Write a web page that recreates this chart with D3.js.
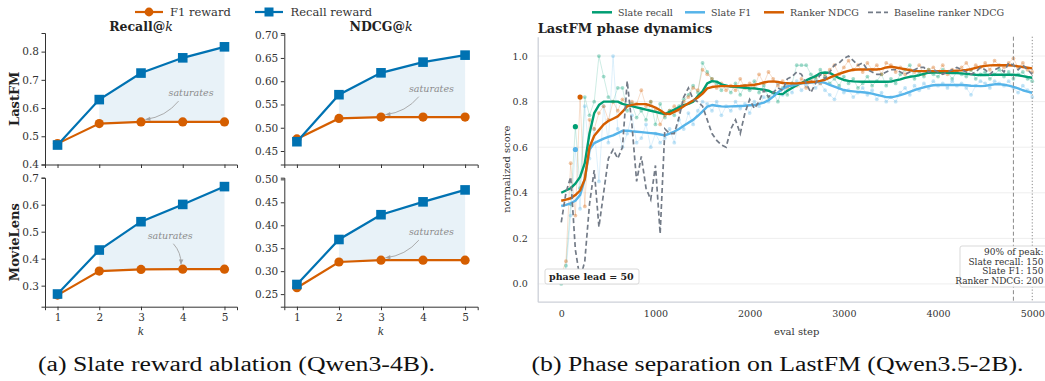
<!DOCTYPE html>
<html>
<head>
<meta charset="utf-8">
<script src="https://cdn.jsdelivr.net/npm/d3@7"></script>
<style>
  body { margin: 0; background: #fff; }
  svg { display: block; font-family: 'DejaVu Serif', serif; }
</style>
</head>
<body>
<svg id="chart" width="1045" height="381"></svg>
<script>
// ---- (a) slate reward ablation ----
const kValues = [1, 2, 3, 4, 5];
const lastfmRecallF1 = [0.474, 0.545, 0.551, 0.551, 0.551];
const lastfmRecallRecall = [0.469, 0.630, 0.724, 0.778, 0.817];
const lastfmNdcgF1 = [0.476, 0.520, 0.523, 0.523, 0.523];
const lastfmNdcgRecall = [0.470, 0.571, 0.618, 0.641, 0.656];
const movielensRecallF1 = [0.265, 0.354, 0.360, 0.361, 0.361];
const movielensRecallRecall = [0.269, 0.432, 0.537, 0.601, 0.667];
const movielensNdcgF1 = [0.264, 0.320, 0.324, 0.324, 0.324];
const movielensNdcgRecall = [0.271, 0.369, 0.423, 0.451, 0.477];

const lastfmRecallTicks = [0.4, 0.5, 0.6, 0.7, 0.8];
const lastfmNdcgTicks = [0.45, 0.50, 0.55, 0.60, 0.65, 0.70];
const movielensRecallTicks = [0.3, 0.4, 0.5, 0.6, 0.7];
const movielensNdcgTicks = [0.25, 0.30, 0.35, 0.40, 0.45, 0.50];

// ---- (b) phase dynamics, eval every 50 steps ----
const evalSteps = d3.range(0, 5001, 50);
const slateRecallRaw = [
  0.00, 0.08, 0.35, 0.69, 0.42, 0.82, 0.74, 0.80, 1.00, 0.91,
  0.82, 0.80, 0.86, 0.86, 0.76, 0.79, 0.73, 0.76, 0.72, 0.80,
  0.70, 0.79, 0.73, 0.76, 0.74, 0.78, 0.81, 0.83, 0.87, 0.84,
  0.97, 0.93, 0.90, 0.88, 0.85, 0.87, 0.84, 0.88, 0.83, 0.87,
  0.85, 0.89, 0.84, 0.87, 0.82, 0.84, 0.80, 0.86, 0.83, 0.88,
  0.96, 0.96, 0.96, 0.92, 0.90, 0.94, 0.91, 0.88, 0.90, 0.87,
  0.91, 0.88, 0.90, 0.86, 0.88, 0.91, 0.87, 0.89, 0.92, 0.87,
  0.90, 0.88, 0.92, 0.94, 0.96, 0.90, 0.93, 0.91, 0.94, 0.92,
  0.91, 0.94, 0.93, 0.90, 0.93, 0.92, 0.91, 0.94, 0.90, 0.92,
  0.93, 0.90, 0.92, 0.94, 0.91, 0.93, 0.90, 0.92, 0.93, 0.90,
  0.89];
const slateF1Raw = [
  0.02, 0.05, 0.30, 0.59, 0.33, 0.78, 0.55, 0.68, 0.45, 0.78,
  0.62, 1.00, 0.68, 0.60, 0.66, 0.74, 0.62, 0.64, 0.70, 0.60,
  0.66, 0.62, 0.64, 0.68, 0.62, 0.72, 0.68, 0.75, 0.70, 0.76,
  0.80, 0.79, 0.76, 0.80, 0.74, 0.78, 0.76, 0.80, 0.77, 0.79,
  0.75, 0.80, 0.78, 0.82, 0.80, 0.84, 0.88, 0.83, 0.87, 0.84,
  0.89, 0.85, 0.87, 0.89, 0.86, 0.88, 0.85, 0.83, 0.81, 0.86,
  0.84, 0.85, 0.82, 0.84, 0.86, 0.83, 0.85, 0.81, 0.84, 0.80,
  0.82, 0.80, 0.84, 0.86, 0.83, 0.87, 0.85, 0.88, 0.86, 0.89,
  0.87, 0.88, 0.86, 0.89, 0.87, 0.88, 0.86, 0.83, 0.87, 0.89,
  0.88, 0.86, 0.89, 0.88, 0.87, 0.89, 0.86, 0.84, 0.87, 0.85,
  0.82];
const rankerNdcgRaw = [
  0.04, 0.10, 0.53, 0.30, 0.82, 0.34, 0.72, 0.68, 0.75, 0.78,
  0.72, 0.80, 0.76, 0.81, 0.78, 0.80, 0.79, 0.85, 0.78, 0.80,
  0.76, 0.70, 0.74, 0.76, 0.78, 0.76, 0.80, 0.82, 0.86, 0.85,
  0.94, 0.92, 0.90, 0.86, 0.88, 0.85, 0.87, 0.85, 0.90, 0.86,
  0.88, 0.86, 0.92, 0.88, 0.93, 0.90, 0.87, 0.89, 0.86, 0.88,
  0.87, 0.90, 0.86, 0.89, 0.91, 0.88, 0.92, 0.94, 0.96, 0.92,
  0.95, 0.98, 0.94, 0.96, 0.93, 0.97, 0.94, 0.96, 0.92, 0.97,
  0.96, 0.93, 0.95, 0.92, 0.94, 0.93, 0.96, 0.92, 0.94, 0.95,
  0.93, 0.96, 0.92, 0.94, 0.93, 0.95, 0.97, 0.94, 0.96, 0.95,
  0.97, 0.94, 0.98, 0.96, 0.95, 0.97, 0.99, 0.95, 0.97, 0.94,
  0.93];
const baselineNdcg = [
  0.27, 0.40, 0.47, 0.15, 0.02, 0.10, 0.35, 0.50, 0.25, 0.40,
  0.55, 0.59, 0.55, 0.60, 0.89, 0.70, 0.45, 0.56, 0.42, 0.37,
  0.52, 0.22, 0.68, 0.66, 0.66, 0.73, 0.82, 0.86, 0.81, 0.80,
  0.78, 0.72, 0.66, 0.63, 0.61, 0.60, 0.68, 0.72, 0.66, 0.75,
  0.81, 0.77, 0.80, 0.85, 0.82, 0.84, 0.86, 0.85, 0.90, 0.91,
  0.93, 0.92, 0.88, 0.84, 0.88, 0.92, 0.90, 0.93, 0.96, 0.97,
  0.99, 1.00, 0.98, 0.96, 0.97, 0.94, 0.93, 0.92, 0.92, 0.93,
  0.94, 0.94, 0.93, 0.92, 0.93, 0.94, 0.95, 0.95, 0.93, 0.94,
  0.93, 0.92, 0.93, 0.94, 0.95, 0.94, 0.93, 0.92, 0.93, 0.95,
  0.94, 0.92, 0.94, 0.95, 0.93, 0.97, 0.96, 0.94, 0.96, 0.94,
  0.92];
const slateRecallSmooth = [
  0.400, 0.410, 0.420, 0.440, 0.470, 0.530, 0.660, 0.750, 0.785, 0.800,
  0.800, 0.800, 0.800, 0.790, 0.785, 0.780, 0.775, 0.770, 0.765, 0.760,
  0.755, 0.750, 0.745, 0.755, 0.765, 0.775, 0.785, 0.790, 0.800, 0.825,
  0.845, 0.880, 0.890, 0.888, 0.876, 0.870, 0.866, 0.865, 0.863, 0.861,
  0.859, 0.858, 0.855, 0.852, 0.848, 0.838, 0.834, 0.833, 0.848, 0.860,
  0.872, 0.882, 0.893, 0.903, 0.912, 0.925, 0.928, 0.926, 0.915, 0.903,
  0.895, 0.891, 0.889, 0.888, 0.887, 0.887, 0.887, 0.887, 0.887, 0.887,
  0.888, 0.893, 0.898, 0.904, 0.909, 0.912, 0.916, 0.922, 0.927, 0.928,
  0.928, 0.927, 0.927, 0.926, 0.925, 0.924, 0.922, 0.920, 0.918, 0.917,
  0.917, 0.918, 0.918, 0.918, 0.918, 0.918, 0.918, 0.916, 0.912, 0.908,
  0.905];
const slateF1Smooth = [
  0.342, 0.347, 0.354, 0.365, 0.390, 0.460, 0.590, 0.618, 0.628, 0.638,
  0.645, 0.652, 0.662, 0.672, 0.673, 0.670, 0.668, 0.666, 0.664, 0.662,
  0.660, 0.656, 0.652, 0.660, 0.669, 0.680, 0.694, 0.707, 0.720, 0.738,
  0.757, 0.778, 0.785, 0.782, 0.779, 0.778, 0.779, 0.780, 0.781, 0.782,
  0.784, 0.785, 0.790, 0.796, 0.806, 0.822, 0.840, 0.856, 0.867, 0.871,
  0.876, 0.880, 0.882, 0.884, 0.886, 0.887, 0.882, 0.874, 0.866, 0.858,
  0.851, 0.847, 0.845, 0.843, 0.841, 0.839, 0.835, 0.830, 0.825, 0.820,
  0.819, 0.823, 0.829, 0.835, 0.843, 0.851, 0.857, 0.863, 0.868, 0.872,
  0.873, 0.873, 0.873, 0.873, 0.873, 0.873, 0.872, 0.870, 0.869, 0.868,
  0.869, 0.873, 0.876, 0.877, 0.874, 0.870, 0.865, 0.858, 0.850, 0.844,
  0.839];
const rankerNdcgSmooth = [
  0.365, 0.370, 0.376, 0.390, 0.410, 0.460, 0.600, 0.650, 0.675, 0.700,
  0.715, 0.725, 0.735, 0.756, 0.780, 0.786, 0.789, 0.789, 0.789, 0.782,
  0.774, 0.762, 0.748, 0.745, 0.755, 0.766, 0.780, 0.793, 0.805, 0.818,
  0.835, 0.858, 0.864, 0.867, 0.868, 0.868, 0.868, 0.868, 0.869, 0.871,
  0.872, 0.874, 0.878, 0.884, 0.888, 0.889, 0.886, 0.882, 0.881, 0.880,
  0.880, 0.882, 0.884, 0.886, 0.887, 0.891, 0.896, 0.905, 0.914, 0.922,
  0.929, 0.935, 0.940, 0.941, 0.941, 0.941, 0.941, 0.941, 0.944, 0.950,
  0.953, 0.950, 0.946, 0.942, 0.938, 0.935, 0.934, 0.934, 0.934, 0.934,
  0.934, 0.934, 0.934, 0.935, 0.936, 0.937, 0.939, 0.943, 0.948, 0.953,
  0.957, 0.959, 0.960, 0.960, 0.960, 0.960, 0.958, 0.955, 0.952, 0.949,
  0.946];

const peakSteps = {recall: 150, f1: 150, ndcg: 200};   // 90% of peak
const markerSteps = [4800, 5000];
const phaseXTicks = [0, 1000, 2000, 3000, 4000, 5000];
const phaseYTicks = [0.0, 0.2, 0.4, 0.6, 0.8, 1.0];

const C = {blue: '#0072B2', orange: '#D55E00', green: '#009E73', sky: '#56B4E9', grey: '#737b87'};
const svg = d3.select('#chart');

// ================= (a) small multiples =================
function drawSmall(box, yDomain, yTicks, yFmt, recallVals, f1Vals, note, showX) {
  const x = d3.scaleLinear().domain([0.7, 5.3]).range([box.x0, box.x1]);
  const y = d3.scaleLinear().domain(yDomain).range([box.y1, box.y0]);
  const g = svg.append('g');
  const rows = kValues.map((k, i) => ({k: k, f1: f1Vals[i], rec: recallVals[i]}));

  g.append('path').datum(rows.slice(1))
    .attr('d', d3.area().x(d => x(d.k)).y0(d => y(d.f1)).y1(d => y(d.rec)))
    .attr('fill', C.blue).attr('fill-opacity', 0.09);

  const yAxis = g.append('g').attr('transform', 'translate(' + box.x0 + ',0)')
    .call(d3.axisLeft(y).tickValues(yTicks).tickFormat(d3.format(yFmt))
      .tickSizeOuter(0).tickSize(3.5).tickPadding(2.5));
  const xAxis = g.append('g').attr('transform', 'translate(0,' + box.y1 + ')')
    .call(d3.axisBottom(x).tickValues(kValues).tickFormat(showX ? d3.format('d') : '')
      .tickSizeOuter(0).tickSize(3.5).tickPadding(3));
  [yAxis, xAxis].forEach(a => {
    a.select('.domain').attr('stroke', '#333').attr('stroke-width', 1);
    a.selectAll('.tick line').attr('stroke', '#333');
    a.selectAll('.tick text').attr('fill', '#333').style('font-size', '10.5px')
      .style('font-family', 'DejaVu Serif');
  });

  const line = d3.line().x(d => x(d.k));
  g.append('path').datum(rows).attr('d', line.y(d => y(d.f1)))
    .attr('fill', 'none').attr('stroke', C.orange).attr('stroke-width', 2.2);
  g.selectAll('.f1pt').data(rows).enter().append('circle')
    .attr('cx', d => x(d.k)).attr('cy', d => y(d.f1)).attr('r', 4.6).attr('fill', C.orange);
  g.append('path').datum(rows).attr('d', line.y(d => y(d.rec)))
    .attr('fill', 'none').attr('stroke', C.blue).attr('stroke-width', 2.2);
  g.selectAll('.recpt').data(rows).enter().append('rect')
    .attr('x', d => x(d.k) - 4.8).attr('y', d => y(d.rec) - 4.8)
    .attr('width', 9.6).attr('height', 9.6).attr('fill', C.blue);

  // "saturates" note with curved arrow to an F1 point
  const tx = x(note.k), ty = y(note.v);
  g.append('text').attr('x', tx).attr('y', ty).attr('dy', '0.35em')
    .attr('text-anchor', 'middle').attr('fill', '#8c8c8c')
    .style('font-style', 'italic').style('font-size', '9.5px').text('saturates');
  const px = x(kValues[note.target]), py = y(f1Vals[note.target]);
  const sx = tx + 0.25 * (px - tx), sy = ty + 8;
  const len = Math.hypot(px - sx, py - sy);
  const ex = px - (px - sx) / len * 5, ey = py - (py - sy) / len * 5;
  const dx = ex - sx, dy = ey - sy;
  const cx = (sx + ex) / 2 + 0.2 * dy, cy = (sy + ey) / 2 - 0.2 * dx;
  g.append('path').attr('d', 'M' + sx + ',' + sy + 'Q' + cx + ',' + cy + ' ' + ex + ',' + ey)
    .attr('fill', 'none').attr('stroke', '#a3a3a3').attr('stroke-width', 0.9);
  const ang = Math.atan2(ey - cy, ex - cx);
  const h = 5, w = 2.2;
  const head = [[ex, ey],
    [ex - h * Math.cos(ang) + w * Math.sin(ang), ey - h * Math.sin(ang) - w * Math.cos(ang)],
    [ex - h * Math.cos(ang) - w * Math.sin(ang), ey - h * Math.sin(ang) + w * Math.cos(ang)]];
  g.append('path').attr('d', 'M' + head.join('L') + 'Z').attr('fill', '#a3a3a3');

  if (showX) {
    g.append('text').attr('x', (box.x0 + box.x1) / 2).attr('y', 335)
      .attr('text-anchor', 'middle').attr('fill', '#333')
      .style('font-style', 'italic').style('font-size', '10.5px').text('k');
  }
  return {x: x, y: y};
}

const colL = {x0: 45, x1: 237}, colR = {x0: 284.3, x1: 477.7};
const rowT = {y0: 33, y1: 164.5}, rowB = {y0: 177.7, y1: 306.7};

drawSmall(Object.assign({}, colL, rowT), [0.4, 0.866], lastfmRecallTicks, '.1f',
  lastfmRecallRecall, lastfmRecallF1, {k: 4.2, v: 0.653, target: 2}, false);
drawSmall(Object.assign({}, colR, rowT), [0.421, 0.7036], lastfmNdcgTicks, '.2f',
  lastfmNdcgRecall, lastfmNdcgF1, {k: 4.2, v: 0.584, target: 2}, false);
drawSmall(Object.assign({}, colL, rowB), [0.222, 0.7], movielensRecallTicks, '.1f',
  movielensRecallRecall, movielensRecallF1, {k: 3.7, v: 0.485, target: 3}, true);
drawSmall(Object.assign({}, colR, rowB), [0.2226, 0.5036], movielensNdcgTicks, '.2f',
  movielensNdcgRecall, movielensNdcgF1, {k: 4.2, v: 0.385, target: 2}, true);

// column titles
[['Recall@', 141], ['NDCG@', 381]].forEach(t => {
  const tt = svg.append('text').attr('x', t[1]).attr('y', 31).attr('text-anchor', 'middle')
    .attr('fill', '#222').style('font-size', '12.5px').style('font-weight', 'bold');
  tt.append('tspan').text(t[0]);
  tt.append('tspan').style('font-style', 'italic').style('font-weight', 'normal').text('k');
});
// row labels
[['LastFM', (rowT.y0 + rowT.y1) / 2], ['MovieLens', (rowB.y0 + rowB.y1) / 2]].forEach(t => {
  svg.append('text').attr('transform', 'translate(14,' + t[1] + ') rotate(-90)')
    .attr('text-anchor', 'middle').attr('dy', '0.35em').attr('fill', '#222')
    .style('font-size', '13px').style('font-weight', 'bold').text(t[0]);
});
// legend (a)
const legA = svg.append('g');
legA.append('line').attr('x1', 135).attr('x2', 163).attr('y1', 12).attr('y2', 12)
  .attr('stroke', C.orange).attr('stroke-width', 2.2);
legA.append('circle').attr('cx', 149).attr('cy', 12).attr('r', 4.4).attr('fill', C.orange);
legA.append('text').attr('x', 170).attr('y', 12).attr('dy', '0.35em').attr('fill', '#333')
  .style('font-size', '11.5px').text('F1 reward');
legA.append('line').attr('x1', 255).attr('x2', 283).attr('y1', 12).attr('y2', 12)
  .attr('stroke', C.blue).attr('stroke-width', 2.2);
legA.append('rect').attr('x', 264.5).attr('y', 7.5).attr('width', 9).attr('height', 9).attr('fill', C.blue);
legA.append('text').attr('x', 290.5).attr('y', 12).attr('dy', '0.35em').attr('fill', '#333')
  .style('font-size', '11.5px').text('Recall reward');

// ================= (b) phase dynamics =================
const px0 = 537.7, py0 = 36.7, py1 = 301.7;
const xs = d3.scaleLinear().domain([-250, 5250]).range([px0, 1055.8]);
const ys = d3.scaleLinear().domain([-0.078, 1.085]).range([py1, py0]);
const gb = svg.append('g');

gb.selectAll('.grid').data(phaseYTicks).enter().append('line')
  .attr('x1', px0).attr('x2', 1045).attr('y1', d => ys(d)).attr('y2', d => ys(d))
  .attr('stroke', '#ececec').attr('stroke-width', 0.9);

const yAx = gb.append('g').attr('transform', 'translate(' + px0 + ',0)')
  .call(d3.axisLeft(ys).tickValues(phaseYTicks).tickFormat(d3.format('.1f')).tickSize(0).tickPadding(10));
const xAx = gb.append('g').attr('transform', 'translate(0,' + py1 + ')')
  .call(d3.axisBottom(xs).tickValues(phaseXTicks).tickFormat(d3.format('d')).tickSize(0).tickPadding(9));
[yAx, xAx].forEach(a => {
  a.select('.domain').attr('stroke', '#cdd0d8').attr('stroke-width', 1.3);
  a.selectAll('.tick text').attr('fill', '#333').style('font-size', '9.5px')
    .style('font-family', 'DejaVu Serif');
});

const rawSeries = [
  {vals: slateRecallRaw, color: C.green},
  {vals: slateF1Raw, color: C.sky},
  {vals: rankerNdcgRaw, color: C.orange}
];
const lineB = d3.line().x((d, i) => xs(evalSteps[i])).y(d => ys(d));
rawSeries.forEach(s => {
  gb.append('path').datum(s.vals).attr('d', lineB).attr('fill', 'none')
    .attr('stroke', s.color).attr('stroke-width', 0.9).attr('stroke-opacity', 0.22);
  gb.append('g').selectAll('circle').data(s.vals).enter().append('circle')
    .attr('cx', (d, i) => xs(evalSteps[i])).attr('cy', d => ys(d)).attr('r', 1.9)
    .attr('fill', s.color).attr('fill-opacity', 0.35);
});

const smoothSeries = [
  {vals: slateRecallSmooth, color: C.green},
  {vals: slateF1Smooth, color: C.sky},
  {vals: rankerNdcgSmooth, color: C.orange}
];
smoothSeries.forEach(s => {
  gb.append('path').datum(s.vals).attr('d', lineB).attr('fill', 'none')
    .attr('stroke', s.color).attr('stroke-width', 2.4).attr('stroke-linejoin', 'round');
});

gb.append('path').datum(baselineNdcg).attr('d', lineB).attr('fill', 'none')
  .attr('stroke', C.grey).attr('stroke-width', 1.7).attr('stroke-dasharray', '5,3');

// 90%-of-peak markers
[[peakSteps.recall, slateRecallRaw, C.green], [peakSteps.f1, slateF1Raw, C.sky],
 [peakSteps.ndcg, rankerNdcgRaw, C.orange]].forEach(m => {
  const i = evalSteps.indexOf(m[0]);
  gb.append('circle').attr('cx', xs(m[0])).attr('cy', ys(m[1][i])).attr('r', 2.6).attr('fill', m[2]);
});

markerSteps.forEach((s, i) => {
  gb.append('line').attr('x1', xs(s)).attr('x2', xs(s)).attr('y1', py0).attr('y2', py1)
    .attr('stroke', '#8a8a8a').attr('stroke-width', 1)
    .attr('stroke-dasharray', i === 0 ? '4,2.5' : '1.2,2');
});

// phase-lead box
gb.append('rect').attr('x', 545).attr('y', 269).attr('width', 94).attr('height', 15).attr('rx', 2)
  .attr('fill', '#fff').attr('stroke', '#cfcfcf').attr('stroke-width', 0.8);
gb.append('text').attr('x', 549).attr('y', 280).attr('fill', '#222')
  .style('font-size', '9.5px').style('font-weight', 'bold')
  .text('phase lead = ' + (peakSteps.ndcg - peakSteps.recall));

// 90% of peak box
gb.append('rect').attr('x', 960).attr('y', 246).attr('width', 92).attr('height', 41).attr('rx', 2)
  .attr('fill', '#fff').attr('fill-opacity', 0.9).attr('stroke', '#cfcfcf').attr('stroke-width', 0.8);
['90% of peak:', 'Slate recall: ' + peakSteps.recall, 'Slate F1: ' + peakSteps.f1,
 'Ranker NDCG: ' + peakSteps.ndcg].forEach((t, i) => {
  gb.append('text').attr('x', 1043.5).attr('y', 254.7 + i * 9.8).attr('text-anchor', 'end')
    .attr('fill', '#333').style('font-size', '9px').text(t);
});

// titles and labels (b)
svg.append('text').attr('x', px0).attr('y', 32.5).attr('fill', '#222')
  .style('font-size', '13px').style('font-weight', 'bold').text('LastFM phase dynamics');
svg.append('text').attr('transform', 'translate(506,' + ((py0 + py1) / 2) + ') rotate(-90)')
  .attr('text-anchor', 'middle').attr('dy', '0.35em').attr('fill', '#333')
  .style('font-size', '10px').text('normalized score');
svg.append('text').attr('x', 796.7).attr('y', 334.5).attr('text-anchor', 'middle').attr('fill', '#333')
  .style('font-size', '10px').text('eval step');

// legend (b)
const legB = [
  {label: 'Slate recall', color: C.green, x: 592, dash: null},
  {label: 'Slate F1', color: C.sky, x: 685, dash: null},
  {label: 'Ranker NDCG', color: C.orange, x: 764, dash: null},
  {label: 'Baseline ranker NDCG', color: C.grey, x: 868, dash: '5,3'}
];
legB.forEach(d => {
  const ln = svg.append('line').attr('x1', d.x).attr('x2', d.x + 20).attr('y1', 12.3).attr('y2', 12.3)
    .attr('stroke', d.color).attr('stroke-width', d.dash ? 1.7 : 2.5);
  if (d.dash) ln.attr('stroke-dasharray', d.dash);
  svg.append('text').attr('x', d.x + 26).attr('y', 12.3).attr('dy', '0.35em').attr('fill', '#444')
    .style('font-size', '9.5px').text(d.label);
});

// captions
[['(a) Slate reward ablation (Qwen3-4B).', 236.5, 397],
 ['(b) Phase separation on LastFM (Qwen3.5-2B).', 777.5, 492]].forEach(c => {
  svg.append('text').attr('x', c[1]).attr('y', 371).attr('text-anchor', 'middle')
    .attr('textLength', c[2]).attr('lengthAdjust', 'spacingAndGlyphs').attr('fill', '#111')
    .style('font-family', "'Liberation Serif', serif")
    .style('font-size', '20.5px').text(c[0]);
});
</script>
</body>
</html>
